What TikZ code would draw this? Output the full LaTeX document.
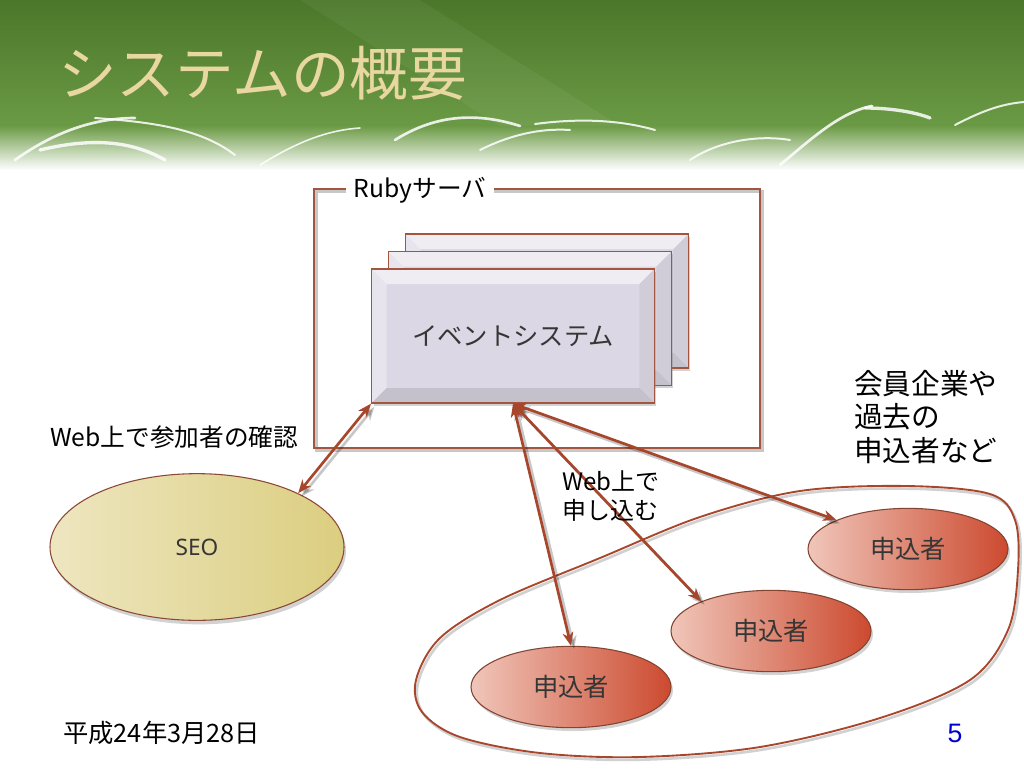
\documentclass[tikz,border=0pt]{standalone}
\usepackage{fontspec}
\setmainfont{Noto Sans CJK JP}
\newfontfamily\latinsans{Liberation Sans}
\newfontfamily\seofont{Noto Sans}
\usetikzlibrary{arrows.meta,shapes.geometric,shadows,calc}
\definecolor{bordc}{HTML}{A4553F}
\definecolor{arrc}{HTML}{A8462C}
\definecolor{boxc}{HTML}{DCD7E4}
\definecolor{hdtop}{HTML}{4A7729}
\definecolor{hdbot}{HTML}{6B9A45}
\definecolor{titlec}{HTML}{E9D7A2}
\definecolor{txtc}{HTML}{363636}
\definecolor{appll}{HTML}{F0C6BA}
\definecolor{applr}{HTML}{CC4A2F}
\definecolor{seol}{RGB}{238,230,192}
\definecolor{seom}{RGB}{246,242,221}
\definecolor{seor}{RGB}{219,206,128}
\newcommand\bevelpic{%
  \path (path picture bounding box.north west) coordinate (bNW)
        (path picture bounding box.north east) coordinate (bNE)
        (path picture bounding box.south west) coordinate (bSW)
        (path picture bounding box.south east) coordinate (bSE);
  \fill[white,opacity=0.55] (bNW) -- (bNE) -- ($(bNE)+(-15,15)$) -- ($(bNW)+(15,15)$) -- cycle;
  \fill[white,opacity=0.35] (bNW) -- ($(bNW)+(15,15)$) -- ($(bSW)+(15,-15)$) -- (bSW) -- cycle;
  \fill[black,opacity=0.10] (bSW) -- ($(bSW)+(15,-15)$) -- ($(bSE)+(-15,-15)$) -- (bSE) -- cycle;
  \fill[black,opacity=0.05] (bNE) -- ($(bNE)+(-15,15)$) -- ($(bSE)+(-15,-15)$) -- (bSE) -- cycle;
}
\tikzset{
  evbox/.style={rectangle, draw=bordc, line width=1pt, fill=boxc, minimum width=212pt,
    minimum height=100.5pt, inner sep=0pt,
    drop shadow={opacity=0.35, shadow xshift=1.5pt, shadow yshift=-2pt},
    path picture={\bevelpic}},
  appl/.style={ellipse, draw=bordc!80!black, line width=0.8pt, left color=appll,
    right color=applr, minimum width=150pt, minimum height=61pt, inner sep=0pt,
    drop shadow={opacity=0.35, shadow xshift=1.5pt, shadow yshift=-2.5pt},
    text=txtc, font=\fontsize{19pt}{19pt}\selectfont},
  arr/.style={draw=arrc, line width=2pt,
    {Stealth[length=10pt,width=8pt,inset=3pt]}-{Stealth[length=10pt,width=8pt,inset=3pt]}},
  arrsh/.style={arr, draw=black, opacity=0.22, transform canvas={shift={(2.5pt,-2.5pt)}}},
  lbl/.style={text=black, align=left, inner sep=0pt}
}
\begin{document}
\begin{tikzpicture}[x=0.75pt,y=-0.75pt]
\useasboundingbox (0,0) rectangle (1024,768);
\fill[white] (0,0) rectangle (1024,768);
% header
\shade[top color=hdtop, bottom color=hdbot] (0,0) rectangle (1024,126);
\shade[top color=hdbot, bottom color=white] (0,125.5) rectangle (1024,170);
\fill[white,opacity=0.05] (300,0) -- (420,0) -- (620,126) -- (500,126) -- cycle;
\begin{scope}[white, line cap=round, opacity=0.85]
  \draw[line width=2pt] (15,160) .. controls (50,135) and (90,118) .. (135,118);
  \draw[line width=1.5pt] (95,118) .. controls (150,122) and (200,128) .. (235,155);
  \draw[line width=2.5pt] (40,150) .. controls (90,138) and (130,140) .. (165,160);
  \draw[line width=2pt] (395,140) .. controls (430,118) and (470,110) .. (520,126);
  \draw[line width=1.5pt] (535,124) .. controls (580,118) and (620,120) .. (655,130);
  \draw[line width=1.5pt] (480,150) .. controls (510,135) and (540,128) .. (570,130);
  \draw[line width=2pt] (780,165) .. controls (810,140) and (840,112) .. (872,106);
  \draw[line width=2.5pt] (865,108) .. controls (890,108) and (915,112) .. (930,118);
  \draw[line width=1.5pt] (955,125) .. controls (980,112) and (1000,104) .. (1024,102);
  \draw[line width=1.5pt] (690,160) .. controls (720,140) and (760,135) .. (790,140);
  \draw[line width=1.2pt] (260,165) .. controls (300,140) and (330,130) .. (360,128);
\end{scope}
\node[anchor=west, text=titlec, inner sep=0pt,
  font=\fontsize{44pt}{44pt}\selectfont] (title) at (58,73) {システムの概要};
% server frame
\node[draw=black!22, line width=1.6pt, minimum width=334.5pt, minimum height=194.25pt,
  inner sep=0pt] (serversh) at (539.5,321) {};
\node[draw=bordc, line width=1.2pt, minimum width=334.5pt, minimum height=194.25pt,
  inner sep=0pt] (server) at (537,318.5) {};
\node[fill=white, inner xsep=6pt, inner ysep=2pt, text=black,
  font=\fontsize{18.5pt}{18.5pt}\selectfont] (rubylbl) at (420,190) {Rubyサーバ};
% stacked boxes
\node[evbox] (back) at (547,301) {};
\node[evbox] (mid) at (530,318.5) {};
\node[evbox, text=txtc, font=\fontsize{19pt}{19pt}\selectfont] (front) at (513,336) {イベントシステム};
% ellipses
\node[ellipse, draw=bordc!85!black, line width=0.8pt,
  left color=seol, middle color=seom, right color=seor,
  minimum width=220.5pt, minimum height=110pt, inner sep=0pt,
  drop shadow={opacity=0.35, shadow xshift=1.5pt, shadow yshift=-3pt},
  text=txtc, font=\seofont\fontsize{17pt}{17pt}\selectfont] (seo) at (197,547) {SEO};
\node[appl] (app1) at (571,687) {申込者};
\node[appl] (app2) at (771,631) {申込者};
\node[appl] (app3) at (908,549) {申込者};
% loop
\draw[black, opacity=0.18, line width=2pt, transform canvas={shift={(1.5pt,-2pt)}}]
  plot[smooth cycle, tension=0.55] coordinates {(416,680) (440,638) (500,600) (600,558) (700,517) (800,491) (907,486) (990,494) (1015,520) (1018,570) (1008,630) (970,680) (880,718) (760,747) (640,757) (540,753) (460,737) (422,712)};
\draw[arrc, line width=1.4pt]
  plot[smooth cycle, tension=0.55] coordinates {(416,680) (440,638) (500,600) (600,558) (700,517) (800,491) (907,486) (990,494) (1015,520) (1018,570) (1008,630) (970,680) (880,718) (760,747) (640,757) (540,753) (460,737) (422,712)};
% arrows
\draw[arrsh] (front.south west) -- (seo.28);
\draw[arrsh] (front.south) -- (app1.north);
\draw[arrsh] (front.south) -- (app2.157);
\draw[arrsh] (front.south) -- (app3.158);
\draw[arr] (front.south west) -- (seo.28);
\draw[arr] (front.south) -- (app1.north);
\draw[arr] (front.south) -- (app2.157);
\draw[arr] (front.south) -- (app3.158);
% labels
\node[lbl, anchor=west, font=\fontsize{18.5pt}{18.5pt}\selectfont] (webchk) at (50,437) {Web上で参加者の確認};
\node[lbl, anchor=west, font=\fontsize{21.5pt}{25pt}\selectfont] (members) at (854,417) {会員企業や\\過去の\\申込者など};
\node[lbl, anchor=west, font=\fontsize{18pt}{22pt}\selectfont] (webapply) at (562,496) {Web上で\\申し込む};
\node[lbl, anchor=west, font=\fontsize{19pt}{19pt}\selectfont] (date) at (63,733) {平成24年3月28日};
\node[inner sep=0pt, text={rgb,255:red,0;green,0;blue,210},
  font=\latinsans\fontsize{20pt}{20pt}\selectfont] (pageno) at (955,733) {5};
\end{tikzpicture}
\end{document}
